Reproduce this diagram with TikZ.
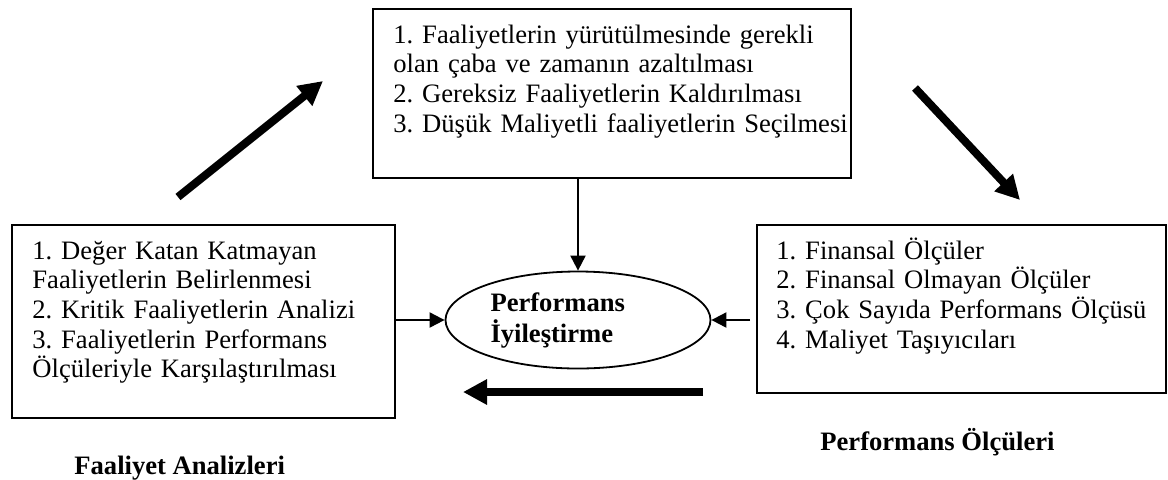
\documentclass[tikz,border=0pt]{standalone}
\usepackage{fontspec}
\setmainfont{Liberation Serif}
\usetikzlibrary{arrows.meta,shapes.geometric}
\newcommand{\metinboy}{\fontsize{13.3}{14.85}\selectfont}
\frenchspacing
\begin{document}
\begin{tikzpicture}[x=0.5pt,y=-0.5pt,
   kutu/.style={draw,line width=1pt,inner sep=0pt,anchor=north west},
   metin/.style={anchor=base west,align=left,inner sep=0pt,text width=240pt,font=\metinboy},
   baslik/.style={anchor=base west,inner sep=0pt,font=\metinboy\bfseries},
   ince/.style={line width=1pt,-{Triangle[length=7.5pt,width=7.5pt]}},
   kalin/.style={line width=4pt,-{Triangle[length=12pt,width=12pt]}}]
   \useasboundingbox (0,0) rectangle (1168,479);
   \node[kutu,minimum width=239pt,minimum height=84.5pt] (ust) at (372,8) {};
   \node[kutu,minimum width=191.5pt,minimum height=96.5pt] (sol) at (11,224) {};
   \node[kutu,minimum width=204.5pt,minimum height=84pt] (sag) at (756,224) {};
   \node[metin] (ustmetin) at (393,43) {1. Faaliyetlerin yürütülmesinde gerekli\\olan çaba ve zamanın azaltılması\\2. Gereksiz Faaliyetlerin Kaldırılması\\3. Düşük Maliyetli faaliyetlerin Seçilmesi};
   \node[metin] (solmetin) at (32,259) {1. Değer Katan Katmayan\\Faaliyetlerin Belirlenmesi\\2. Kritik Faaliyetlerin Analizi\\3. Faaliyetlerin Performans\\Ölçüleriyle Karşılaştırılması};
   \node[metin] (sagmetin) at (776,259) {1. Finansal Ölçüler\\2. Finansal Olmayan Ölçüler\\3. Çok Sayıda Performans Ölçüsü\\4. Maliyet Taşıyıcıları};
   \node[ellipse,draw,line width=0.9pt,inner sep=0pt,minimum width=132.5pt,minimum height=48.5pt,
         text width=87.5pt,align=left,font=\fontsize{13.3}{15.5}\selectfont\bfseries] (perf) at (578,320) {Performans\\İyileştirme};
   \node[baslik] (solbaslik) at (74,474) {Faaliyet Analizleri};
   \node[baslik] (sagbaslik) at (820,450) {Performans Ölçüleri};
   \draw[ince] (perf.north |- ust.south) -- (perf.north);
   \draw[ince] (perf.west -| sol.east) -- (perf.west);
   \draw[ince] (perf.east -| sag.west) ++(-6,0) -- (perf.east);
   \coordinate (ok1a) at (178,197);
   \coordinate (ok1b) at (323,81);
   \coordinate (ok2a) at (915,88);
   \coordinate (ok2b) at (1020,200);
   \coordinate (ok3a) at (703,392);
   \coordinate (ok3b) at (463,392);
   \draw[kalin] (ok1a) -- (ok1b);
   \draw[kalin] (ok2a) -- (ok2b);
   \draw[kalin] (ok3a) -- (ok3b);
\end{tikzpicture}
\end{document}
